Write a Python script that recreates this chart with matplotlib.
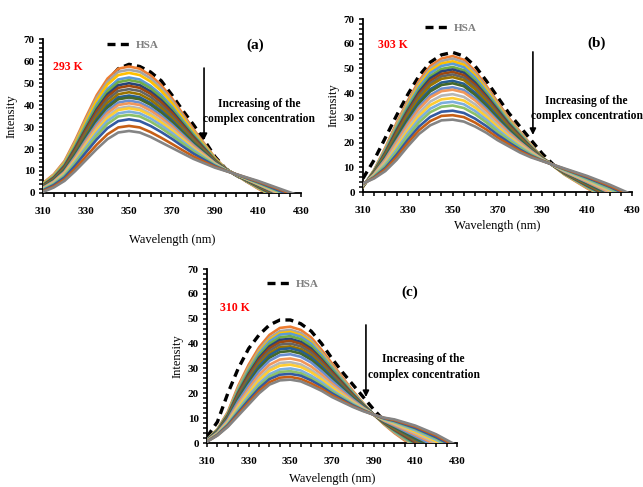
"""
Espectros de fluorescência da HSA com o complexo a 293, 303 e 310 K.
Três painéis (a), (b), (c) no estilo do gráfico original do Excel.
"""
import matplotlib
matplotlib.use("Agg")
import matplotlib.pyplot as plt
from matplotlib.lines import Line2D
from matplotlib.ticker import MultipleLocator

plt.rcParams['font.family'] = ['Liberation Serif', 'DejaVu Serif']
plt.rcParams['font.weight'] = 'bold'

# ---------- dados ----------
WAVELENGTH = [310, 315, 320, 325, 330, 335, 340, 345, 350, 355, 360,
              365, 370, 375, 380, 385, 390, 395, 400, 410, 420, 430]

HSA_293 = [3.5, 7.5, 13, 22.5, 33, 43, 51, 56.5, 58.5, 57.5, 55, 51, 44.5,
           37.5, 31, 24, 16.5, 11, 8, 2.5, -3, -8.5]
SPECTRA_293 = [
    [4.5, 8.5, 14.5, 24, 34.5, 44.5, 52, 56.5, 57.5, 56.5, 53.5, 49, 43, 36, 29, 22.5, 16, 11, 8, 2, -3.5, -9],
    [4.3, 8.2, 14.1, 23.3, 33.5, 43.3, 50.6, 55.1, 56.0, 55.1, 52.1, 47.7, 41.9, 35.1, 28.3, 22.1, 15.8, 11.0, 8.0, 2.2, -3.2, -8.6],
    [4.1, 7.9, 13.6, 22.6, 32.6, 42.1, 49.3, 53.6, 54.6, 53.6, 50.7, 46.4, 40.8, 34.2, 27.7, 21.6, 15.6, 10.9, 8.1, 2.4, -3.0, -8.3],
    [3.8, 7.5, 13.0, 21.6, 31.2, 40.3, 47.3, 51.6, 52.5, 51.6, 48.7, 44.6, 39.2, 32.9, 26.7, 21.0, 15.2, 10.8, 8.1, 2.6, -2.6, -7.7],
    [3.7, 7.2, 12.6, 21.1, 30.4, 39.4, 46.2, 50.4, 51.3, 50.4, 47.6, 43.5, 38.3, 32.2, 26.2, 20.6, 15.1, 10.8, 8.1, 2.7, -2.3, -7.4],
    [3.5, 6.9, 12.2, 20.4, 29.4, 38.1, 44.9, 49.0, 49.9, 49.0, 46.2, 42.2, 37.2, 31.3, 25.5, 20.2, 14.8, 10.7, 8.1, 2.9, -2.1, -7.1],
    [3.3, 6.7, 11.8, 19.8, 28.7, 37.2, 43.8, 47.8, 48.7, 47.8, 45.1, 41.2, 36.3, 30.6, 25.0, 19.8, 14.7, 10.7, 8.2, 3.1, -1.9, -6.8],
    [3.1, 6.4, 11.4, 19.1, 27.7, 35.9, 42.4, 46.4, 47.2, 46.4, 43.7, 39.9, 35.1, 29.7, 24.3, 19.4, 14.4, 10.7, 8.2, 3.2, -1.6, -6.4],
    [2.9, 6.1, 10.9, 18.4, 26.7, 34.7, 41.0, 44.9, 45.8, 44.9, 42.3, 38.6, 34.0, 28.8, 23.6, 18.9, 14.2, 10.6, 8.2, 3.4, -1.3, -6.0],
    [2.7, 5.8, 10.5, 17.7, 25.7, 33.5, 39.6, 43.5, 44.3, 43.5, 40.9, 37.3, 32.9, 27.9, 22.9, 18.5, 14.0, 10.6, 8.2, 3.6, -1.0, -5.6],
    [2.6, 5.6, 10.2, 17.3, 25.1, 32.7, 38.8, 42.6, 43.4, 42.6, 40.1, 36.5, 32.2, 27.4, 22.5, 18.2, 13.8, 10.5, 8.2, 3.7, -0.9, -5.4],
    [2.4, 5.3, 9.7, 16.6, 24.2, 31.5, 37.4, 41.1, 42.0, 41.1, 38.7, 35.2, 31.1, 26.5, 21.8, 17.7, 13.6, 10.5, 8.3, 3.9, -0.6, -5.0],
    [2.2, 5.1, 9.4, 16.0, 23.4, 30.5, 36.3, 40.0, 40.8, 40.0, 37.5, 34.2, 30.2, 25.7, 21.3, 17.4, 13.4, 10.4, 8.3, 4.0, -0.4, -4.7],
    [2.0, 4.8, 8.9, 15.3, 22.4, 29.3, 35.0, 38.5, 39.3, 38.5, 36.1, 32.9, 29.1, 24.8, 20.6, 16.9, 13.2, 10.4, 8.3, 4.2, -0.1, -4.4],
    [1.9, 4.6, 8.7, 14.9, 21.8, 28.6, 34.1, 37.7, 38.5, 37.7, 35.3, 32.1, 28.4, 24.3, 20.2, 16.7, 13.1, 10.4, 8.3, 4.3, 0.1, -4.1],
    [1.7, 4.3, 8.2, 14.2, 20.9, 27.4, 32.8, 36.2, 37.0, 36.2, 33.9, 30.8, 27.3, 23.4, 19.6, 16.2, 12.9, 10.3, 8.4, 4.5, 0.4, -3.8],
    [1.5, 4.0, 7.8, 13.5, 19.9, 26.1, 31.4, 34.8, 35.5, 34.8, 32.5, 29.5, 26.1, 22.5, 18.9, 15.8, 12.6, 10.3, 8.4, 4.6, 0.6, -3.4],
    [1.2, 3.6, 7.1, 12.5, 18.5, 24.4, 29.5, 32.7, 33.5, 32.7, 30.5, 27.7, 24.6, 21.2, 17.9, 15.1, 12.3, 10.2, 8.4, 4.9, 1.0, -2.9],
    [0.8, 3.0, 6.2, 11.1, 16.6, 22.0, 26.7, 29.8, 30.5, 29.8, 27.7, 25.1, 22.3, 19.4, 16.6, 14.2, 11.9, 10.1, 8.5, 5.2, 1.6, -2.1],
    [0.5, 2.5, 5.5, 10, 15, 20, 24.5, 27.5, 28.2, 27.5, 25.5, 23, 20.5, 18, 15.5, 13.5, 11.5, 10, 8.5, 5.5, 2, -1.5],
]

HSA_303 = [5.5, 13, 22, 31, 39.5, 47, 52.5, 55.5, 56.5, 55, 51, 45, 38.5, 32,
           26.5, 21, 15.5, 11, 8, 2.5, -2.5, -7.5]
SPECTRA_303 = [
    [2, 9, 18, 28, 37, 45, 51, 54, 55, 53.5, 49, 43, 36.5, 30, 24.5, 19, 14, 10.5, 7, 1.5, -3.5, -8.5],
    [2.1, 8.9, 17.6, 27.4, 36.3, 44.1, 50.0, 53.0, 54.0, 52.5, 48.1, 42.2, 35.9, 29.5, 24.2, 18.8, 13.9, 10.5, 7.1, 1.7, -3.2, -8.2],
    [2.1, 8.7, 17.2, 26.8, 35.5, 43.3, 49.1, 52.0, 52.9, 51.5, 47.2, 41.5, 35.3, 29.1, 23.8, 18.6, 13.9, 10.5, 7.2, 1.9, -3.0, -7.9],
    [2.2, 8.6, 16.9, 26.2, 34.8, 42.4, 48.1, 51.0, 51.9, 50.5, 46.3, 40.7, 34.6, 28.6, 23.5, 18.4, 13.8, 10.6, 7.3, 2.1, -2.7, -7.6],
    [2.3, 8.4, 16.4, 25.5, 33.9, 41.4, 46.9, 49.8, 50.6, 49.3, 45.2, 39.8, 33.9, 28.1, 23.1, 18.2, 13.8, 10.6, 7.4, 2.4, -2.4, -7.2],
    [2.3, 8.3, 16.0, 24.9, 33.1, 40.5, 46.0, 48.8, 49.6, 48.3, 44.3, 39.0, 33.3, 27.6, 22.7, 18.0, 13.7, 10.6, 7.5, 2.6, -2.1, -6.9],
    [2.4, 8.1, 15.6, 24.3, 32.4, 39.6, 45.0, 47.8, 48.6, 47.3, 43.4, 38.3, 32.6, 27.1, 22.4, 17.8, 13.6, 10.6, 7.6, 2.8, -1.9, -6.6],
    [2.4, 8.0, 15.3, 23.7, 31.6, 38.8, 44.0, 46.8, 47.6, 46.3, 42.5, 37.5, 32.0, 26.7, 22.0, 17.6, 13.6, 10.6, 7.7, 3.0, -1.6, -6.3],
    [2.5, 7.9, 14.9, 23.1, 30.9, 37.9, 43.1, 45.8, 46.5, 45.3, 41.6, 36.7, 31.4, 26.2, 21.7, 17.4, 13.5, 10.7, 7.8, 3.2, -1.4, -6.0],
    [2.6, 7.6, 14.3, 22.2, 29.8, 36.6, 41.6, 44.3, 45.0, 43.8, 40.2, 35.6, 30.5, 25.5, 21.2, 17.1, 13.4, 10.7, 8.0, 3.5, -1.0, -5.6],
    [2.6, 7.5, 13.9, 21.6, 29.1, 35.8, 40.7, 43.3, 44.0, 42.8, 39.3, 34.8, 29.8, 25.1, 20.9, 16.9, 13.4, 10.7, 8.1, 3.7, -0.7, -5.3],
    [2.7, 7.3, 13.4, 20.7, 27.9, 34.5, 39.2, 41.8, 42.4, 41.3, 38.0, 33.7, 28.9, 24.4, 20.3, 16.6, 13.3, 10.7, 8.2, 4.0, -0.3, -4.8],
    [2.8, 7.2, 13.0, 20.1, 27.2, 33.6, 38.3, 40.8, 41.4, 40.3, 37.1, 32.9, 28.3, 23.9, 20.0, 16.4, 13.2, 10.8, 8.3, 4.2, -0.1, -4.5],
    [2.9, 6.9, 12.3, 19.0, 25.9, 32.1, 36.6, 39.0, 39.6, 38.5, 35.5, 31.6, 27.2, 23.1, 19.4, 16.0, 13.1, 10.8, 8.5, 4.5, 0.4, -4.0],
    [3.0, 6.7, 11.7, 18.1, 24.8, 30.8, 35.2, 37.5, 38.0, 37.0, 34.2, 30.5, 26.3, 22.4, 18.9, 15.7, 13.0, 10.8, 8.7, 4.8, 0.8, -3.6],
    [3.1, 6.5, 11.2, 17.2, 23.7, 29.5, 33.7, 36.0, 36.5, 35.5, 32.8, 29.3, 25.3, 21.7, 18.4, 15.4, 12.9, 10.9, 8.8, 5.1, 1.2, -3.1],
    [3.2, 6.3, 10.6, 16.3, 22.6, 28.2, 32.3, 34.5, 35.0, 34.0, 31.5, 28.2, 24.4, 21.0, 17.9, 15.1, 12.8, 10.9, 9.0, 5.4, 1.6, -2.7],
    [3.3, 6.0, 9.8, 15.1, 21.1, 26.5, 30.4, 32.5, 32.9, 32.0, 29.7, 26.7, 23.2, 20.1, 17.2, 14.7, 12.7, 10.9, 9.2, 5.8, 2.1, -2.1],
    [3.4, 5.8, 9.2, 14.1, 19.8, 25.0, 28.7, 30.8, 31.1, 30.3, 28.1, 25.3, 22.1, 19.3, 16.6, 14.4, 12.6, 11.0, 9.3, 6.2, 2.5, -1.5],
    [3.5, 5.5, 8.5, 13, 18.5, 23.5, 27, 29, 29.3, 28.5, 26.5, 24, 21, 18.5, 16, 14, 12.5, 11, 9.5, 6.5, 3, -1],
]

HSA_310 = [2.5, 8.5, 20, 30, 38, 43.5, 47.5, 49.5, 49.5, 48, 45, 40, 34, 28.5,
           23.5, 18.5, 13.5, 9, 5.5, -1, -6, -11]
SPECTRA_310 = [
    [1.5, 5.5, 12.5, 23, 31.5, 38.5, 43.5, 46.3, 46.8, 45.5, 42.5, 37.5, 32, 26.5, 21, 16, 11.5, 7.5, 4, -2, -7, -12],
    [1.4, 5.4, 12.1, 22.3, 30.5, 37.4, 42.3, 45.0, 45.5, 44.3, 41.3, 36.5, 31.2, 25.9, 20.6, 15.8, 11.5, 7.7, 4.3, -1.5, -6.4, -11.3],
    [1.4, 5.3, 11.9, 21.8, 29.9, 36.7, 41.5, 44.2, 44.7, 43.4, 40.6, 35.9, 30.7, 25.5, 20.4, 15.7, 11.5, 7.8, 4.6, -1.1, -6.0, -10.9],
    [1.4, 5.2, 11.7, 21.4, 29.4, 36.1, 40.9, 43.6, 44.0, 42.8, 40.0, 35.4, 30.3, 25.2, 20.2, 15.6, 11.5, 7.9, 4.7, -0.8, -5.6, -10.6],
    [1.3, 5.1, 11.4, 20.8, 28.6, 35.2, 39.9, 42.5, 43.0, 41.8, 39.0, 34.5, 29.6, 24.7, 19.8, 15.4, 11.5, 8.0, 5.0, -0.4, -5.1, -10.0],
    [1.3, 4.9, 11.1, 20.2, 27.8, 34.3, 38.9, 41.5, 41.9, 40.7, 38.0, 33.7, 28.9, 24.2, 19.5, 15.3, 11.5, 8.1, 5.3, 0.1, -4.6, -9.5],
    [1.2, 4.8, 10.9, 19.8, 27.2, 33.5, 38.1, 40.6, 41.1, 39.9, 37.2, 33.1, 28.4, 23.8, 19.3, 15.1, 11.5, 8.2, 5.5, 0.4, -4.2, -9.0],
    [1.2, 4.7, 10.6, 19.2, 26.4, 32.6, 37.1, 39.6, 40.0, 38.9, 36.3, 32.2, 27.7, 23.3, 18.9, 15.0, 11.5, 8.4, 5.8, 0.9, -3.6, -8.5],
    [1.1, 4.6, 10.3, 18.6, 25.6, 31.7, 36.1, 38.5, 38.9, 37.8, 35.3, 31.4, 27.0, 22.8, 18.6, 14.8, 11.5, 8.5, 6.0, 1.3, -3.1, -7.9],
    [1.1, 4.5, 10.0, 18.1, 24.9, 30.9, 35.3, 37.7, 38.1, 37.0, 34.5, 30.7, 26.5, 22.4, 18.3, 14.7, 11.5, 8.6, 6.3, 1.7, -2.7, -7.5],
    [1.0, 4.4, 9.7, 17.5, 24.1, 30.0, 34.3, 36.6, 37.0, 36.0, 33.5, 29.9, 25.8, 21.9, 18.0, 14.5, 11.5, 8.7, 6.5, 2.1, -2.2, -6.9],
    [1.0, 4.2, 9.4, 16.8, 23.2, 28.9, 33.1, 35.3, 35.7, 34.7, 32.4, 28.9, 25.0, 21.3, 17.6, 14.3, 11.5, 8.9, 6.9, 2.7, -1.5, -6.3],
    [0.9, 4.0, 8.9, 15.8, 21.9, 27.4, 31.5, 33.6, 34.0, 33.1, 30.8, 27.6, 23.9, 20.5, 17.1, 14.1, 11.4, 9.1, 7.3, 3.4, -0.7, -5.4],
    [0.8, 3.8, 8.5, 15.0, 20.8, 26.1, 30.1, 32.2, 32.5, 31.6, 29.4, 26.5, 23.0, 19.8, 16.7, 13.9, 11.4, 9.3, 7.7, 4.0, 0.0, -4.6],
    [0.8, 3.7, 8.2, 14.4, 20.0, 25.2, 29.1, 31.1, 31.5, 30.6, 28.5, 25.6, 22.3, 19.3, 16.3, 13.7, 11.4, 9.4, 8.0, 4.5, 0.6, -4.1],
    [0.7, 3.5, 7.8, 13.5, 18.9, 23.9, 27.7, 29.6, 30.0, 29.2, 27.1, 24.5, 21.3, 18.6, 15.9, 13.5, 11.4, 9.6, 8.3, 5.1, 1.3, -3.3],
    [0.7, 3.4, 7.5, 12.9, 18.1, 23.0, 26.7, 28.6, 28.9, 28.1, 26.1, 23.6, 20.7, 18.1, 15.5, 13.3, 11.4, 9.8, 8.6, 5.6, 1.8, -2.8],
    [0.6, 3.3, 7.2, 12.3, 17.3, 22.0, 25.7, 27.5, 27.8, 27.1, 25.2, 22.8, 20.0, 17.6, 15.2, 13.2, 11.4, 9.9, 8.9, 6.0, 2.3, -2.2],
    [0.6, 3.1, 6.8, 11.6, 16.3, 20.9, 24.5, 26.3, 26.6, 25.8, 24.0, 21.8, 19.2, 17.0, 14.8, 13.0, 11.4, 10.1, 9.2, 6.6, 3.0, -1.6],
    [0.5, 3, 6.5, 11, 15.5, 20, 23.5, 25.2, 25.5, 24.8, 23, 21, 18.5, 16.5, 14.5, 12.8, 11.4, 10.2, 9.5, 7, 3.5, -1],
]

TEMPERATURES = ["293 K", "303 K", "310 K"]
PANEL_TAGS = ["(a)", "(b)", "(c)"]

# paleta padrão do Excel (séries 2..21)
COLORS = ['#ED7D31', '#A5A5A5', '#FFC000', '#5B9BD5', '#70AD47', '#264478',
          '#9E480E', '#636363', '#997300', '#255E91', '#43682B', '#698ED0',
          '#F1975A', '#B7B7B7', '#FFCD33', '#7CAFDD', '#8CC168', '#335AA1',
          '#C65F16', '#848484']


def draw_panel(ax, hsa, spectra, temp, tag, cfg):
    ax.plot(WAVELENGTH, hsa, color='black', lw=2.4, dashes=(2.4, 1.6),
            zorder=1)
    for i, row in enumerate(spectra):
        ax.plot(WAVELENGTH, row, color=COLORS[i % len(COLORS)], lw=1.9,
                zorder=2 + i)

    ax.set_xlim(310, 430)
    ax.set_ylim(0, 70)
    ax.set_xticks(range(310, 431, 20))
    ax.set_yticks(range(0, 71, 10))
    ax.xaxis.set_minor_locator(MultipleLocator(5))
    ax.yaxis.set_minor_locator(MultipleLocator(2))
    ax.tick_params(which='both', direction='out', length=3, width=1.1,
                   labelsize=8)
    ax.tick_params(axis='x', pad=7)
    ax.tick_params(axis='y', pad=3)
    for s in ('top', 'right'):
        ax.spines[s].set_visible(False)
    for s in ('left', 'bottom'):
        ax.spines[s].set_linewidth(1.3)

    ax.set_xlabel("Wavelength (nm)", fontsize=9, labelpad=cfg['xpad'])
    ax.set_ylabel("Intensity", fontsize=9, labelpad=cfg['ypad'])

    handle = Line2D([], [], color='black', lw=2.4, dashes=(2.4, 1.6))
    leg = ax.legend([handle], ["HSA"], loc='center left',
                    bbox_to_anchor=cfg['leg'], frameon=False, fontsize=8,
                    handlelength=2.0, handletextpad=0.6, borderpad=0,
                    borderaxespad=0)
    for t in leg.get_texts():
        t.set_color('#7F7F7F')

    ax.text(*cfg['temp'], temp, color='red', fontsize=8.5, va='center',
            ha='left')
    ax.text(*cfg['tag'], tag, fontsize=11, va='center', ha='center')
    ax.annotate("", xy=cfg['arrow'][1], xytext=cfg['arrow'][0],
                arrowprops=dict(arrowstyle='-|>', color='black', lw=1.2,
                                mutation_scale=9, shrinkA=0, shrinkB=0))
    ax.text(*cfg['note'], "Increasing of the\ncomplex concentration",
            fontsize=8.3, ha='center', va='center', linespacing=1.4,
            clip_on=False)


fig = plt.figure(figsize=(6.43, 4.87), dpi=100)
ax_a = fig.add_axes([0.0669, 0.6037, 0.4012, 0.3162])
ax_b = fig.add_axes([0.5645, 0.6057, 0.4184, 0.3552])
ax_c = fig.add_axes([0.3219, 0.0903, 0.3888, 0.3573])

configs = [
    dict(xpad=13, ypad=4, leg=(0.248, 0.961), temp=(314.5, 57.3),
         tag=(408.6, 67.3), arrow=((384.9, 56.8), (384.9, 24.1)),
         note=(410.5, 37)),
    dict(xpad=4, ypad=3, leg=(0.230, 0.948), temp=(316.7, 59.5),
         tag=(414.4, 60.3), arrow=((385.8, 56.7), (385.8, 23.1)),
         note=(409.8, 33.8)),
    dict(xpad=5, ypad=3, leg=(0.240, 0.914), temp=(316.2, 54.3),
         tag=(407.5, 60.7), arrow=((386.3, 47.5), (386.3, 18.5)),
         note=(414, 30.6)),
]

for ax, hsa, spectra, temp, tag, cfg in zip(
        [ax_a, ax_b, ax_c], [HSA_293, HSA_303, HSA_310],
        [SPECTRA_293, SPECTRA_303, SPECTRA_310], TEMPERATURES, PANEL_TAGS,
        configs):
    draw_panel(ax, hsa, spectra, temp, tag, cfg)

fig.savefig("out.png", dpi=100)
plt.close(fig)
